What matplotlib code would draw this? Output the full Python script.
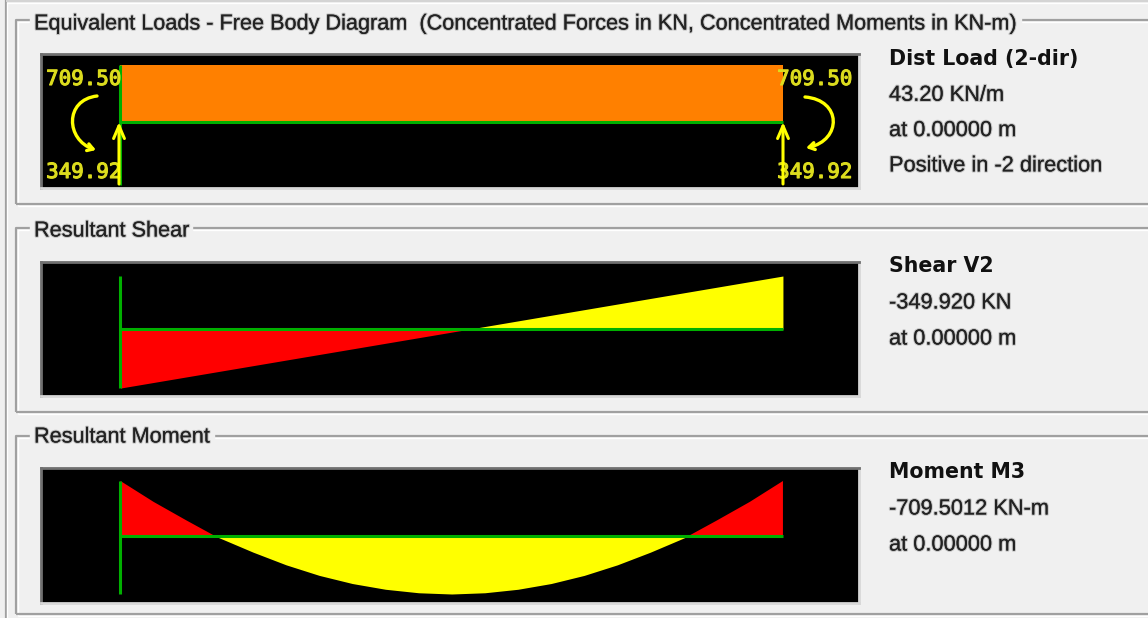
import matplotlib
matplotlib.use('Agg')
import matplotlib.pyplot as plt
import matplotlib.patheffects as pe
from matplotlib.patches import FancyArrowPatch
from matplotlib.path import Path
import numpy as np

# values
beam_x = [0.0, 16.2]
dist_load = [43.2, 43.2]

shear_x = [0.0, 8.55, 16.2]
shear_v = [-349.92, 0.0, 314.0]

moment_x = [0.0, 0.81, 1.62, 2.31, 3.24, 4.05, 4.86, 5.67, 6.48, 7.29, 8.1,
            8.91, 9.72, 10.53, 11.34, 12.15, 12.96, 13.89, 14.58, 15.39, 16.2]
moment_v = [-709.5, -440.0, -199.0, 0.0, 208.0, 372.0, 508.0, 613.0, 687.0, 732.0, 748.0,
            732.0, 687.0, 613.0, 508.0, 372.0, 208.0, 0.0, -199.0, -440.0, -709.5]

end_moment = '709.50'
end_force = '349.92'

title_load = 'Equivalent Loads - Free Body Diagram  (Concentrated Forces in KN, Concentrated Moments in KN-m)'
title_shear = 'Resultant Shear'
title_moment = 'Resultant Moment'

info_load = ['43.20 KN/m', 'at 0.00000 m', 'Positive in -2 direction']
info_shear = ['-349.920 KN', 'at 0.00000 m']
info_moment = ['-709.5012 KN-m', 'at 0.00000 m']

W, H = 1148, 618
BG = '#f0f0f0'
GREEN = '#00b000'
YELLOW = '#ffff00'
LABEL = '#dcdc1e'
SOFT = [pe.withStroke(linewidth=1.6, foreground='#33333340')]

plt.rcParams['font.family'] = ['Liberation Sans', 'DejaVu Sans']

fig = plt.figure(figsize=(W / 100, H / 100), dpi=100, facecolor=BG)

# pixel axes for the dialog frame
frame = fig.add_axes([0, 0, 1, 1], zorder=0)
frame.set_xlim(0, W)
frame.set_ylim(H, 0)
frame.axis('off')


def groove(xs, ys, color='#a0a0a0'):
    frame.plot(xs, ys, color=color, lw=1.6, solid_capstyle='butt')
    frame.plot(np.array(xs) + 1.5, np.array(ys) + 1.5, color='#ffffff', lw=1.0, solid_capstyle='butt')


groove([5.5, 5.5], [0, H])
groove([5.5, W], [1, 1], color='#d4d4d4')
for top, bottom in [(20, 204), (228, 412), (436, 614)]:
    groove([16, 16, W], [bottom, top, top])
    groove([16, W], [bottom, bottom])


def caption(x, y, s, right):
    frame.fill_between([x - 4, right], y - 12, y + 12, color=BG, zorder=2)
    frame.text(x, y, s, fontsize=15.6, color='#222222', va='center', ha='left', zorder=3, path_effects=SOFT)


caption(34, 24, title_load, 1021)
caption(34, 231, title_shear, 192)
caption(34, 437, title_moment, 214)


def panel(top, bottom, ylim):
    ax = fig.add_axes([41 / W, 1 - bottom / H, (859 - 41) / W, (bottom - top) / H], zorder=1)
    ax.set_facecolor('black')
    ax.set_xlim(-1.944, 18.06)
    ax.set_ylim(*ylim)
    ax.set_xticks([])
    ax.set_yticks([])
    for name, sp in ax.spines.items():
        sp.set_color('#707070' if name in ('top', 'left') else '#d8d8d8')
        sp.set_linewidth(2)
    return ax


# load panel
ax1 = panel(54, 188, (-50.0, 51.5))
ax1.fill_between(beam_x, 0, dist_load, color='#ff8000', lw=0)
ax1.plot(beam_x, [0, 0], color=GREEN, lw=2.2, solid_capstyle='butt')
ax1.plot([0, 0], [-47.5, dist_load[0]], color=GREEN, lw=2.2, solid_capstyle='butt')

# shear panel
ax2 = panel(262, 396, (-397, 397))
sx = np.array(shear_x)
sv = np.array(shear_v)
ax2.fill_between(sx[:2], 0, sv[:2], color='#ff0000', lw=0)
ax2.fill_between(sx[1:], 0, sv[1:], color=YELLOW, lw=0)
ax2.plot(beam_x, [0, 0], color=GREEN, lw=2.2, solid_capstyle='butt')
ax2.plot([0, 0], [shear_v[0], shear_v[-1]], color=GREEN, lw=2.2, solid_capstyle='butt')

# moment panel, sagging is drawn downwards
ax3 = panel(468, 603, (864, -877))
mx = np.array(moment_x)
mv = np.array(moment_v)
ax3.fill_between(mx, 0, mv, where=mv <= 0, color='#ff0000', lw=0)
ax3.fill_between(mx, 0, mv, where=mv >= 0, color=YELLOW, lw=0)
ax3.plot(beam_x, [0, 0], color=GREEN, lw=2.2, solid_capstyle='butt')
ax3.plot([0, 0], [moment_v[0], max(moment_v)], color=GREEN, lw=2.2, solid_capstyle='butt')

# end reactions and moments on top of the load panel
over = fig.add_axes([0, 0, 1, 1], zorder=5)
over.set_xlim(0, W)
over.set_ylim(H, 0)
over.axis('off')
over.patch.set_alpha(0)

HEAVY = [pe.withStroke(linewidth=0.8, foreground=LABEL)]
for x in (84, 815):
    over.text(x, 79, end_moment, family='DejaVu Sans Mono', fontsize=15, color=LABEL, ha='center', va='center',
              path_effects=HEAVY)
    over.text(x, 172, end_force, family='DejaVu Sans Mono', fontsize=15, color=LABEL, ha='center', va='center',
              path_effects=HEAVY)

curve = [Path.MOVETO, Path.CURVE4, Path.CURVE4, Path.CURVE4]
head = '->,head_length=4,head_width=2.5'
for verts in ([(97, 96), (64, 100), (66, 140), (96, 150)], [(805, 97), (842, 100), (842, 140), (806, 148)]):
    over.add_patch(FancyArrowPatch(path=Path(verts, curve), arrowstyle=head, color=YELLOW, lw=2.4))
for x in (119, 783):
    over.annotate('', xy=(x, 122), xytext=(x, 184),
                  arrowprops=dict(arrowstyle='->,head_length=0.7,head_width=0.3', color=YELLOW, lw=2.2,
                                  shrinkA=0, shrinkB=0, mutation_scale=13))


def info(y0, heading, lines, step):
    over.text(889, y0, heading, fontsize=14.8, fontweight='bold', family='DejaVu Sans', color='#111111',
              va='center', ha='left')
    for i, line in enumerate(lines):
        over.text(889, y0 + step * (i + 1) + 1, line, fontsize=15.7, color='#222222', va='center', ha='left',
                  path_effects=SOFT)


info(59, 'Dist Load (2-dir)', info_load, 35.3)
info(266, 'Shear V2', info_shear, 36)
info(472, 'Moment M3', info_moment, 36)

fig.savefig('out.png', dpi=100, facecolor=BG)
